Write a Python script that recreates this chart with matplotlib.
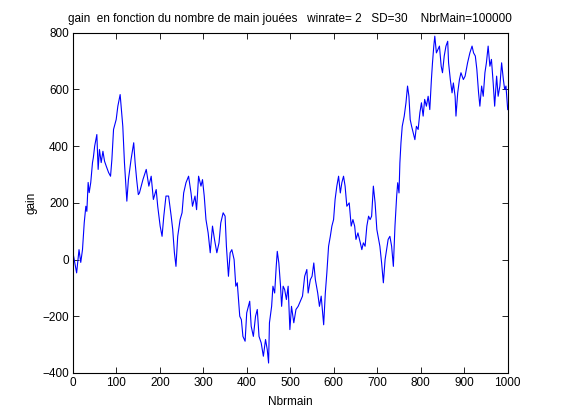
import matplotlib
matplotlib.use("Agg")
import matplotlib.pyplot as plt

# Number of hands played (x) and gain (y)
hands = [0, 8.5, 14, 18, 22, 26, 29.7, 32, 35, 37.4, 41, 45, 47, 50, 55, 58, 61, 65, 69,
         72.7, 76.5, 82, 86.5, 89.6, 93.4, 99.5, 103.3, 108.6, 114.7, 118.5, 124, 127.6,
         133.7, 139.8, 143, 146.6, 150.4,
         153, 161, 168.6, 174.6, 180, 185, 191.5, 195, 200.6, 205, 209, 214, 220, 226,
         229.5, 233.4, 237, 241, 246.5, 251, 254.7, 260, 266, 271.6, 275, 280.8, 284.4,
         289, 294.5, 298, 302, 306, 311, 315.8, 321, 325.6, 331,
         336, 340, 345.5, 350, 353, 357.7, 361.6, 365.5, 370.7, 374.6, 378, 383.7, 387.4,
         391, 396, 399.7, 406.6, 410, 415, 420, 424, 428, 433, 438, 443, 447, 450, 452,
         457, 460, 464, 467.6, 470, 473.6, 477.5, 480, 483.5, 487, 491, 495, 499, 502.7,
         508, 513, 518,
         528, 533, 538, 541, 546, 550, 554, 557.6, 563, 567, 571, 576.7, 580.5, 584, 588,
         592, 595.6, 599.5, 603, 607, 611, 615, 618.5, 622.4, 626, 630, 635.5, 640, 644,
         648, 651, 655.5, 661, 664.5, 668, 672, 676, 680, 683.5, 687, 691, 695, 699,
         706, 710, 714, 718, 721.5, 725, 729, 733, 737, 740.7, 744.6, 747, 750, 752,
         754.5, 757.4, 762, 766, 769.6, 772.8, 775.7, 779, 782.6, 786.5, 790, 794, 798,
         801.6, 805.5, 809, 813, 817, 820.8, 824.5, 827, 830, 832.3, 836,
         843, 847, 850, 854, 858, 862, 864, 868, 872, 875, 879, 881, 885, 889, 892.5,
         898, 902, 907.7, 913, 918, 921.5, 925.5, 929, 933, 936, 940, 943.7, 947.6, 951,
         955, 959, 962.6, 966.6, 970, 974.5, 978, 982, 986, 990, 993, 996, 1000]

gain = [25, -47, 35, -10, 35, 130, 188, 170, 272, 236, 272, 342, 360, 400, 441, 318, 388,
        342, 382, 347, 330, 307, 294, 353, 459, 494, 541, 582, 470, 342, 206, 282, 353,
        412, 342, 282, 229,
        235, 282, 318, 259, 294, 212, 247, 188, 118, 82, 153, 224, 224, 153, 106, 24, -24,
        82, 141, 165, 235, 271, 294, 235, 188, 224, 176, 294, 259, 282, 224, 141, 94, 24,
        118, 71, 24,
        59, 129, 165, 153, 47, -59, 24, 35, 0, -94, -82, -200, -212, -271, -288, -188,
        -147, -235, -271, -200, -176, -271, -294, -341, -282, -318, -365, -223, -165, -94,
        -118, -24, 29, -12, -94, -165, -94, -106, -141, -94, -247, -165, -223, -176, -165,
        -129, -59, -35, -118, -71, -59, -12, -71, -118, -165, -129, -230, -118, -47, 47,
        82, 118, 141, 212, 259, 294, 235, 271, 294, 259, 188, 200, 118, 141, 118, 71, 94,
        59, 35, 59, 47, 118, 153, 141, 153, 259, 200, 106,
        47, -12, -82, 0, 35, 71, 82, 47, -24, 118, 224, 271, 235, 341, 412, 470, 506, 553,
        612, 576, 494, 470, 447, 423, 470, 459, 518, 553, 506, 565, 541, 576, 529, 635,
        694, 753, 788, 729,
        753, 682, 659, 718, 753, 770, 694, 635, 588, 623, 576, 506, 588, 635, 659, 635,
        647, 694, 729, 753, 729, 718, 671, 588, 541, 612, 576, 659, 694, 753, 682, 706,
        623, 541, 647, 576, 612, 694, 635, 600, 612, 529]

xticks = [0, 100, 200, 300, 400, 500, 600, 700, 800, 900, 1000]
yticks = [-400, -200, 0, 200, 400, 600, 800]

plt.rcParams['font.family'] = ['Liberation Sans', 'DejaVu Sans']
plt.rcParams['font.size'] = 8.5

fig = plt.figure(figsize=(5.61, 4.20), dpi=100, facecolor='white')
ax = fig.add_axes([0.13, 0.112, 0.775, 0.81])
ax.plot(hands, gain, color='#0000ff', linewidth=0.8)
ax.set_xlim(0, 1000)
ax.set_ylim(-400, 800)
ax.set_xticks(xticks)
ax.set_yticks(yticks)
ax.tick_params(direction='in', top=True, right=True, length=4, width=0.6, pad=3,
               labelsize=8.5)
for s in ax.spines.values():
    s.set_linewidth(0.8)
ax.set_xlabel('Nbrmain', fontsize=8.5, labelpad=5)
ax.set_ylabel('gain', fontsize=8.5, labelpad=3)
ax.set_title('gain  en fonction du nombre de main jouées   winrate= 2   SD=30    NbrMain=100000',
             fontsize=8.5, pad=8)
fig.savefig('out.png', dpi=100, facecolor='white')
